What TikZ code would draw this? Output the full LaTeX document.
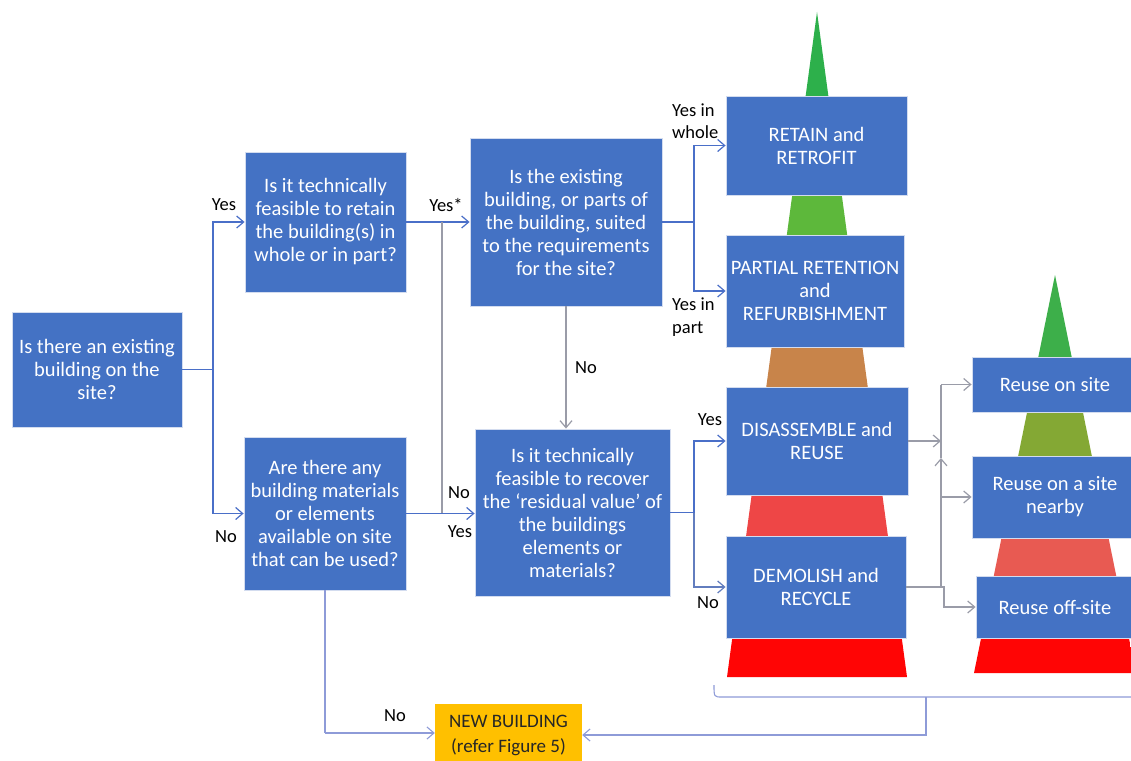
\documentclass[tikz,border=0pt]{standalone}
\usepackage{fontspec}
\setmainfont{Carlito}
\usetikzlibrary{arrows.meta}
\definecolor{boxblue}{HTML}{4472C4}
\definecolor{boxedge}{HTML}{D3DCEF}
\definecolor{conblue}{HTML}{4A6FC8}
\definecolor{congray}{HTML}{9A9CA8}
\definecolor{conlight}{HTML}{8E9BD8}
\definecolor{nbgold}{HTML}{FFC000}
\definecolor{pgreenA}{HTML}{2DB04B}
\definecolor{pgreenB}{HTML}{5DB83B}
\definecolor{pbrown}{HTML}{C8844A}
\definecolor{plred}{HTML}{EE4646}
\definecolor{pred}{HTML}{FF0505}
\definecolor{qgreen}{HTML}{3DAF4A}
\definecolor{qolive}{HTML}{84A834}
\definecolor{qlred}{HTML}{E85A52}
\begin{document}
\begin{tikzpicture}[x=1pt,y=-1pt,
  qbox/.style={draw=boxedge,line width=0.9pt,fill=boxblue,text=white,align=center,
    inner sep=0pt,font=\fontsize{20.5}{23}\selectfont},
  nbbox/.style={fill=nbgold,text=black!85,align=center,inner sep=0pt,
    font=\fontsize{19}{25}\selectfont},
  lbl/.style={text=black,inner sep=0pt,font=\fontsize{18.5}{22.5}\selectfont,align=left},
  tip/.style={-{Straight Barb[length=7pt,width=12pt]}},
  conn/.style={draw=conblue,line width=1.2pt},
  conng/.style={draw=congray,line width=1.2pt},
  connl/.style={draw=conlight,line width=1.1pt}]
\useasboundingbox (0,0) rectangle (1131,760);
\fill[white] (0,0) rectangle (1131,760);
\clip (0,0) rectangle (1131,760);

% left pyramid
\begin{scope}
\clip (817,12) -- (907,677) -- (727,677) -- cycle;
\fill[pgreenA] (700,0) rectangle (930,146);
\fill[pgreenB] (700,146) rectangle (930,291);
\fill[pbrown] (700,291) rectangle (930,441);
\fill[plred] (700,441) rectangle (930,587);
\fill[pred] (700,587) rectangle (930,680);
\end{scope}
% right pyramid
\begin{scope}
\clip (1055,275) -- (1136,673) -- (974,673) -- cycle;
\fill[qgreen] (960,260) rectangle (1140,384);
\fill[qolive] (960,384) rectangle (1140,497);
\fill[qlred] (960,497) rectangle (1140,607);
\fill[pred] (960,607) rectangle (1140,680);
\end{scope}

% boxes
\node[qbox,minimum width=170pt,minimum height=115pt] (A) at (97,369.5) {Is there an existing\\building on the\\site?};
\node[qbox,minimum width=161pt,minimum height=140pt] (B) at (325.5,222) {Is it technically\\feasible to retain\\the building(s) in\\whole or in part?};
\node[qbox,minimum width=192pt,minimum height=168pt] (C) at (566,222) {Is the existing\\building, or parts of\\the building, suited\\to the requirements\\for the site?};
\node[qbox,minimum width=162pt,minimum height=153pt] (D) at (325,513.5) {Are there any\\building materials\\or elements\\available on site\\that can be used?};
\node[qbox,minimum width=195pt,minimum height=167pt] (E) at (572.5,512.5) {Is it technically\\feasible to recover\\the ‘residual value’ of\\the buildings\\elements or\\materials?};
\node[qbox,minimum width=181pt,minimum height=99pt] (F) at (816.5,145.5) {RETAIN and\\RETROFIT};
\node[qbox,minimum width=178pt,minimum height=112pt] (G) at (815,291) {PARTIAL RETENTION\\and\\REFURBISHMENT};
\node[qbox,minimum width=182pt,minimum height=108pt] (H) at (817,441) {DISASSEMBLE and\\REUSE};
\node[qbox,minimum width=180pt,minimum height=102pt] (I) at (816,587) {DEMOLISH and\\RECYCLE};
\node[qbox,minimum width=166pt,minimum height=55pt] (R1) at (1055,384.5) {Reuse on site};
\node[qbox,minimum width=166pt,minimum height=82pt] (R2) at (1055,497) {Reuse on a site\\nearby};
\node[qbox,minimum width=158pt,minimum height=62pt] (R3) at (1055,607) {Reuse off-site};
\node[nbbox,minimum width=147pt,minimum height=63pt] (NB) at (508.5,735) {NEW BUILDING\\(refer Figure 5)};

% junction coordinates
\coordinate (jA) at (213,369.5);
\coordinate (jB) at (442,222);
\coordinate (jD) at (442,513.5);
\coordinate (jC) at (694,222);
\coordinate (jE) at (694,512.5);
\coordinate (jH) at (941,441);
\coordinate (jI) at (941,587);
\coordinate (jUp) at (941,458);
\coordinate (jTop) at (941,384.5);
\coordinate (jStep) at (944,587);
\coordinate (bL) at (714,685);
\coordinate (bM) at (926,697);
\coordinate (bR) at (1140,697);
\coordinate (Dn) at (325,733);

% connectors
\draw[conn] (A.east) -- (jA);
\draw[conn,tip] (jA) |- (B.west);
\draw[conn,tip] (jA) |- (D.west);
\draw[conn,tip] (B.east) -- (C.west);
\draw[conng] (jB) -- (jD);
\draw[conn,tip] (D.east) -- (D.east -| E.west);
\draw[conng,tip] (C.south) -- (C.south |- E.north);
\draw[conn] (C.east) -- (jC);
\draw[conn,tip] (jC) |- (F.west);
\draw[conn,tip] (jC) |- (G.west);
\draw[conn] (E.east) -- (jE);
\draw[conn,tip] (jE) |- (H.west);
\draw[conn,draw=conblue!70!congray,tip] (jE) |- (I.west);
\draw[conng,tip] (H.east) -- (jH);
\draw[conng] (I.east) -- (jI);
\draw[conng,tip] (jI) -- (jUp);
\draw[conng] (jUp) -- (jTop);
\draw[conng,tip] (jTop) -- (R1.west);
\draw[conng,tip] (jTop |- R2.west) -- (R2.west);
\draw[conng,tip] (jI) -- (jStep) |- (R3.west);
\draw[connl] (bL) .. controls (714,697) .. (722,697) -- (bR);
\draw[connl,tip] (bM) |- (NB.east);
\draw[connl] (D.south) -- (Dn);
\draw[connl,tip] (Dn) -- (Dn -| NB.west);

% labels
\node[lbl] (l1) at (224,205) {Yes};
\node[lbl] (l2) at (226,537) {No};
\node[lbl] (l3) at (446,205) {Yes*};
\node[lbl] (l4) at (459,493) {No};
\node[lbl] (l5) at (460,532) {Yes};
\node[lbl] (l6) at (586,368) {No};
\node[lbl,anchor=west] (l7) at (672,121) {Yes in\\whole};
\node[lbl,anchor=west] (l8) at (672,317) {Yes in\\part};
\node[lbl] (l9) at (710,420) {Yes};
\node[lbl] (l10) at (708,603) {No};
\node[lbl] (l11) at (395,716) {No};
\end{tikzpicture}
\end{document}
